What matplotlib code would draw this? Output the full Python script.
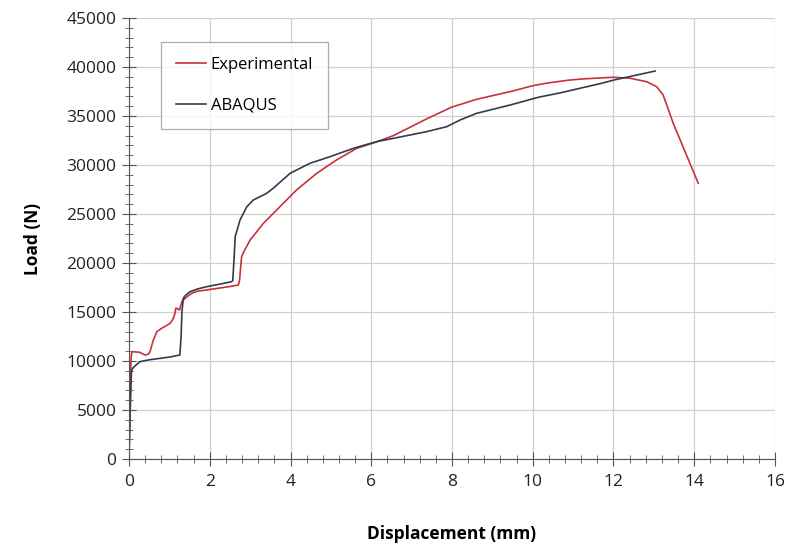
import matplotlib
matplotlib.use("Agg")
import matplotlib.pyplot as plt
from matplotlib.ticker import MultipleLocator

# Experimental curve (displacement mm, load N)
exp_x = [0.0, 0.02, 0.05, 0.07, 0.25, 0.40, 0.48, 0.52, 0.60, 0.69, 0.81, 0.92, 1.02,
         1.10, 1.14, 1.16, 1.20, 1.25, 1.31, 1.345, 1.45, 1.55, 1.70, 1.92, 2.20, 2.50,
         2.71, 2.74, 2.77, 2.79, 2.85, 3.00, 3.33, 3.74, 4.15, 4.65, 5.14, 5.64, 6.13,
         6.55, 7.37, 7.99, 8.61, 9.19, 9.44, 10.01, 10.43, 10.92, 11.24, 11.67, 12.00,
         12.41, 12.82, 13.07, 13.23, 13.48, 14.10]
exp_y = [0, 5000, 10200, 10950, 10900, 10610, 10700, 10950, 12100, 12990, 13340, 13600,
         13850, 14360, 14900, 15380, 15350, 15200, 16050, 16220, 16600, 16910, 17120,
         17250, 17420, 17600, 17750, 18300, 19800, 20650, 21200, 22350, 24050, 25750,
         27450, 29150, 30510, 31700, 32350, 33000, 34700, 35900, 36700, 37250, 37480,
         38100, 38400, 38670, 38780, 38880, 38950, 38850, 38500, 37990, 37140, 34250,
         28130]

# ABAQUS curve
abq_x = [0.0, 0.03, 0.06, 0.09, 0.15, 0.27, 0.50, 0.77, 1.00, 1.26, 1.29, 1.31, 1.345,
         1.40, 1.51, 1.70, 1.92, 2.20, 2.54, 2.57, 2.60, 2.63, 2.75, 2.92, 3.08, 3.41,
         3.57, 3.99, 4.48, 4.98, 5.56, 6.13, 6.55, 7.37, 7.87, 8.20, 8.61, 9.44, 10.14,
         10.67, 11.67, 12.04, 12.66, 13.03]
abq_y = [0, 5000, 8900, 9250, 9500, 9930, 10120, 10270, 10400, 10610, 12500, 15000,
         16400, 16700, 17070, 17350, 17580, 17800, 18090, 18200, 20310, 22680, 24390,
         25750, 26430, 27110, 27620, 29150, 30170, 30850, 31700, 32380, 32720, 33400,
         33910, 34590, 35270, 36120, 36910, 37350, 38300, 38700, 39250, 39590]

plt.rcParams['font.family'] = ['Open Sans', 'DejaVu Sans']

fig = plt.figure(figsize=(7.9, 5.48), dpi=100)
ax = fig.add_axes([0.1633, 0.1624, 0.8177, 0.8048])

ax.plot(exp_x, exp_y, color='#c8323a', lw=1.2, label='Experimental')
ax.plot(abq_x, abq_y, color='#2e3e4e', lw=1.2, label='ABAQUS')

ax.set_xlim(0, 16)
ax.set_ylim(0, 45000)
ax.xaxis.set_major_locator(MultipleLocator(2))
ax.xaxis.set_minor_locator(MultipleLocator(0.4))
ax.yaxis.set_major_locator(MultipleLocator(5000))
ax.yaxis.set_minor_locator(MultipleLocator(1000))

ax.grid(True, which='major', color='#d0d0d0', lw=0.9)
ax.set_axisbelow(True)
for s in ['top', 'right']:
    ax.spines[s].set_visible(False)
for s in ['left', 'bottom']:
    ax.spines[s].set_color('#555555')
ax.tick_params(which='major', direction='inout', length=10, color='#555555',
               labelsize=12.5, labelcolor='#222222')
ax.tick_params(which='minor', direction='inout', length=6, color='#555555')
ax.tick_params(axis='x', pad=6)
ax.tick_params(axis='y', pad=4)

ax.set_xlabel('Displacement (mm)', fontsize=12.5, fontweight='bold', labelpad=25)
ax.set_ylabel('Load (N)', fontsize=12.5, fontweight='bold', labelpad=18)

leg = ax.legend(loc='upper left', bbox_to_anchor=(0.036, 0.965), fontsize=12,
                frameon=True, fancybox=False, edgecolor='#999999', labelspacing=1.5,
                handlelength=1.8, handletextpad=0.3, borderpad=0.9)
leg.get_frame().set_linewidth(0.9)

fig.savefig('out.png', dpi=100, facecolor='white')
